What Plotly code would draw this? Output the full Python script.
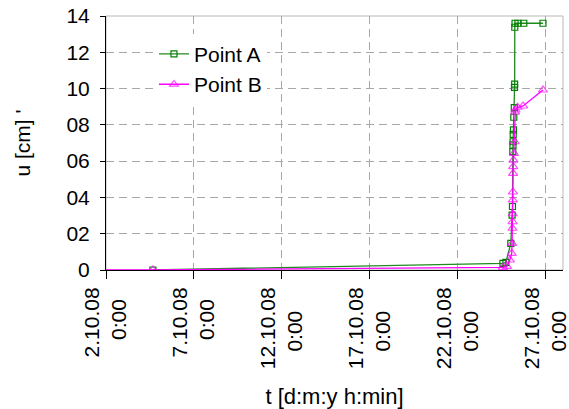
import plotly.graph_objects as go

# ---- data ----
tick_dates = ["2008-10-02", "2008-10-07", "2008-10-12", "2008-10-17", "2008-10-22", "2008-10-27"]
tick_days = ["2.10.08", "7.10.08", "12.10.08", "17.10.08", "22.10.08", "27.10.08"]
tick_hours = ["0:00", "0:00", "0:00", "0:00", "0:00", "0:00"]
y_tickvals = [0, 0.2, 0.4, 0.6, 0.8, 1.0, 1.2, 1.4]
y_ticktext = ["0", "02", "04", "06", "08", "10", "12", "14"]

a_time = ["2008-10-04 16:00", "2008-10-24 14:00", "2008-10-24 18:00", "2008-10-25 00:45",
          "2008-10-25 02:30", "2008-10-25 03:00", "2008-10-25 03:30", "2008-10-25 03:40",
          "2008-10-25 03:50", "2008-10-25 04:00", "2008-10-25 04:20", "2008-10-25 04:50",
          "2008-10-25 05:30", "2008-10-25 05:45", "2008-10-25 06:00", "2008-10-25 06:10",
          "2008-10-25 06:30", "2008-10-25 10:30", "2008-10-25 18:30", "2008-10-26 20:40"]
a_val = [0.0, 0.037, 0.042, 0.147, 0.303, 0.35, 0.652, 0.689, 0.707, 0.748, 0.772, 0.842,
         0.895, 1.007, 1.025, 1.338, 1.36, 1.36, 1.36, 1.36]

b_time = ["2008-10-02 00:00", "2008-10-04 16:00", "2008-10-24 14:00", "2008-10-24 19:30",
          "2008-10-24 23:30", "2008-10-25 02:00", "2008-10-25 02:30", "2008-10-25 03:00",
          "2008-10-25 03:10", "2008-10-25 03:20", "2008-10-25 03:30", "2008-10-25 03:40",
          "2008-10-25 03:50", "2008-10-25 04:00", "2008-10-25 04:20", "2008-10-25 05:00",
          "2008-10-25 06:00", "2008-10-25 06:30", "2008-10-25 07:00", "2008-10-25 10:00",
          "2008-10-25 17:30", "2008-10-26 20:40"]
b_val = [0.0, 0.0, 0.015, 0.02, 0.055, 0.092, 0.147, 0.23, 0.266, 0.31, 0.386, 0.43, 0.533,
         0.57, 0.606, 0.643, 0.707, 0.87, 0.882, 0.897, 0.904, 0.992]

FONT = "Liberation Sans, Arial, sans-serif"


def em_width(s):
    # approximate Arial advance widths (em) to centre the two label lines
    return sum(0.278 if c in ".:" else 0.556 for c in s)


tick_text = []
for d, h in zip(tick_days, tick_hours):
    pad = int(round((em_width(d) - em_width(h)) / 2 / 0.278))
    tick_text.append(d + "<br>" + h + "&nbsp;" * pad)

fig = go.Figure()
fig.add_trace(go.Scatter(
    x=a_time, y=a_val, name="Point A", mode="lines+markers",
    line=dict(color="#1f8a1f", width=1.3),
    marker=dict(symbol="square-open", size=6, color="#008000", line=dict(width=1.2)),
))
b_sizes = [0] + [8] * (len(b_val) - 1)
fig.add_trace(go.Scatter(
    x=b_time, y=b_val, name="Point B", mode="lines+markers",
    line=dict(color="#ff00ff", width=1.3),
    marker=dict(symbol="triangle-up-open", size=b_sizes, color="#ff00ff", line=dict(width=1.2)),
))

fig.add_shape(type="rect", xref="paper", yref="paper", x0=0, x1=1, y0=0, y1=1,
              line=dict(color="#b8b8b8", width=1), layer="below")

fig.update_layout(
    width=569, height=409,
    margin=dict(l=106, r=6, t=16, b=139),
    paper_bgcolor="white", plot_bgcolor="white",
    font=dict(family=FONT, size=20, color="black"),
    showlegend=True,
    legend=dict(x=0.105, y=0.93, xanchor="left", yanchor="top", bgcolor="white",
                font=dict(size=21), borderwidth=0, tracegroupgap=0),
    xaxis=dict(
        type="date", range=["2008-10-02", "2008-10-28"],
        tickmode="array", tickvals=tick_dates, ticktext=tick_text, tickangle=-90,
        tickfont=dict(size=21), ticklabeloverflow="allow",
        ticks="outside", ticklen=8, tickcolor="black",
        showline=True, linecolor="black", linewidth=1,
        showgrid=True, gridcolor="#a8a8a8", griddash="8px,5px", gridwidth=1,
        zeroline=False,
        title=dict(text="t [d:m:y h:min]", font=dict(size=22), standoff=22),
        automargin=False,
    ),
    yaxis=dict(
        range=[0, 1.4], tickmode="array", tickvals=y_tickvals, ticktext=y_ticktext,
        tickfont=dict(size=21),
        ticks="outside", ticklen=5, tickcolor="black",
        showline=True, linecolor="black", linewidth=1,
        showgrid=True, gridcolor="#a8a8a8", griddash="8px,5px", gridwidth=1,
        zeroline=False, ticklabelstandoff=6,
        title=dict(text="u [cm] '", font=dict(size=21), standoff=30),
        automargin=False,
    ),
)

fig.write_html("out.html")
